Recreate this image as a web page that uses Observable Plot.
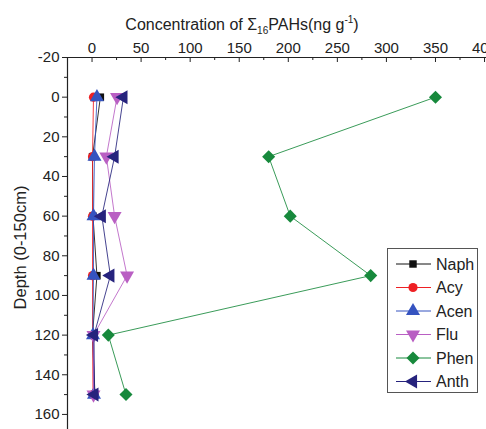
<!DOCTYPE html>
<html><head><meta charset="utf-8">
<script src="https://cdn.jsdelivr.net/npm/d3@7"></script>
<script src="https://cdn.jsdelivr.net/npm/@observablehq/plot@0.6"></script>
<style>
body{margin:0;background:#fff;}
#chart{position:relative;width:486px;height:429px;overflow:hidden;font-family:"Liberation Sans",Arial,sans-serif;}
#chart svg{font-family:"Liberation Sans",Arial,sans-serif;}
</style></head><body><div id="chart"></div>
<script>
// ---- data ----
const depths = [0, 30, 60, 90, 120, 150];
const naph = [8.5, 0.5, 1, 5, 0.5, 3];
const acy  = [1.5, 0.5, 0.5, 0.5, 0.5, 1];
const acen = [5, 2.5, 1.5, 1.5, 1, 2];
const flu  = [25.5, 14.6, 23, 35.7, 1.5, 1.5];
const phen = [350, 180, 202, 284, 16.6, 34.6];
const anth = [32, 23, 10, 18.7, 2, 2.5];
const seriesNames = ["Naph", "Acy", "Acen", "Flu", "Phen", "Anth"];
const seriesValues = [naph, acy, acen, flu, phen, anth];
const seriesColors = ["#111111", "#ee2024", "#3553c0", "#b95fc3", "#17893c", "#26237d"];
const xTicks = [0, 50, 100, 150, 200, 250, 300, 350, 400];
const xMinor = [25, 75, 125, 175, 225, 275, 325, 375];
const yTicks = [-20, 0, 20, 40, 60, 80, 100, 120, 140, 160];
const yMinor = [-10, 10, 30, 50, 70, 90, 110, 130, 150];
const xTitle = ["Concentration of Σ", "16", "PAHs(ng g", "-1", ")"];
const yTitle = "Depth (0-150cm)";

// ---- symbols ----
const triDown = {draw(ctx, size) {
  const y = -Math.sqrt(size / (Math.sqrt(3) * 3));
  ctx.moveTo(0, -y * 2); ctx.lineTo(-Math.sqrt(3) * y, y); ctx.lineTo(Math.sqrt(3) * y, y); ctx.closePath();
}};
const triLeft = {draw(ctx, size) {
  const y = -Math.sqrt(size / (Math.sqrt(3) * 3));
  ctx.moveTo(y * 2, 0); ctx.lineTo(-y, -Math.sqrt(3) * y); ctx.lineTo(-y, Math.sqrt(3) * y); ctx.closePath();
}};
const triUp = d3.symbolTriangle;
const diamond = {draw(ctx, size) {
  const r = Math.sqrt(size / 2);
  ctx.moveTo(0, -r); ctx.lineTo(r, 0); ctx.lineTo(0, r); ctx.lineTo(-r, 0); ctx.closePath();
}};
const seriesSymbols = [d3.symbolSquare, d3.symbolCircle, triUp, triDown, diamond, triLeft];
const seriesR = [4.2, 4.6, 5.2, 5.2, 5.2, 5.2];

const rows = seriesNames.flatMap((name, i) => depths.map((d, j) => ({series: name, depth: d, value: seriesValues[i][j]})));

const W = 486, H = 429, mTop = 57, mLeft = 67;
const xDomain = [-25, 402];
const yDomain = [-20, 167.6];
const innerH = H - mTop;
const fmt = d => String(d);

const seriesMarks = seriesNames.flatMap((name, i) => {
  const data = rows.filter(r => r.series === name);
  return [
    Plot.line(data, {x: "value", y: "depth", stroke: seriesColors[i], strokeWidth: 1, strokeOpacity: 0.85}),
    Plot.dot(data, {x: "value", y: "depth", symbol: seriesSymbols[i], fill: seriesColors[i], r: seriesR[i]})
  ];
});

const chart = Plot.plot({
  width: W, height: H,
  marginTop: mTop, marginLeft: mLeft, marginRight: 0, marginBottom: 0,
  style: {fontFamily: '"Liberation Sans", Arial, sans-serif', overflow: "visible", background: "#fff"},
  x: {domain: xDomain, label: null},
  y: {domain: yDomain, reverse: true, label: null},
  marks: [
    Plot.axisX(xTicks, {anchor: "top", tickSize: 0, tickPadding: 5, fontSize: 15, fill: "#222", label: null, tickFormat: fmt}),
    Plot.tickX(xTicks, {x: d => d, stroke: "#222", strokeWidth: 1, insetBottom: innerH - 5}),
    Plot.tickX(xMinor, {x: d => d, stroke: "#222", strokeWidth: 1, insetBottom: innerH - 3}),
    Plot.axisY(yTicks, {anchor: "left", tickSize: 5, tickPadding: 3, fontSize: 15, fill: "#222", stroke: "#222", label: null, tickFormat: fmt}),
    Plot.axisY(yMinor, {anchor: "left", tickSize: 3, tickFormat: () => "", stroke: "#222", label: null}),
    Plot.ruleX([xDomain[0]], {stroke: "#222", strokeWidth: 1.2}),
    Plot.ruleY([yDomain[0]], {stroke: "#222", strokeWidth: 1.2}),
    ...seriesMarks,
    Plot.text([yTitle], {frameAnchor: "left", textAnchor: "middle", dx: -47, dy: 4, rotate: -90, fontSize: 16.5, fill: "#222"})
  ]
});

document.getElementById("chart").appendChild(chart);

// title with sub/superscript
const svg = d3.select(chart);
const t = svg.append("text").attr("x", 242).attr("y", 30).attr("text-anchor", "middle")
  .attr("font-size", 16).attr("fill", "#222");
t.append("tspan").text(xTitle[0]);
t.append("tspan").attr("font-size", 10).attr("dy", 4).text(xTitle[1]);
t.append("tspan").attr("font-size", 16).attr("dy", -4).text(xTitle[2]);
t.append("tspan").attr("font-size", 10).attr("dy", -7).text(xTitle[3]);
t.append("tspan").attr("font-size", 16).attr("dy", 7).text(xTitle[4]);

// legend
const lg = d3.select("#chart").append("svg")
  .style("position", "absolute").style("left", "387px").style("top", "248px")
  .attr("width", 92).attr("height", 146);
lg.append("rect").attr("x", 0.5).attr("y", 0.5).attr("width", 90).attr("height", 144)
  .attr("fill", "#fff").attr("stroke", "#555").attr("stroke-width", 1);
seriesNames.forEach((name, i) => {
  const cy = 16 + i * 23.5;
  const g = lg.append("g");
  g.append("line").attr("x1", 9).attr("x2", 44).attr("y1", cy).attr("y2", cy)
    .attr("stroke", seriesColors[i]).attr("stroke-width", 1);
  g.append("path").attr("transform", `translate(26,${cy})`)
    .attr("d", d3.symbol().type(seriesSymbols[i]).size(Math.PI * seriesR[i] * seriesR[i])())
    .attr("fill", seriesColors[i]);
  g.append("text").attr("x", 49).attr("y", cy).attr("dy", "0.36em")
    .attr("font-size", 16).attr("fill", "#222").text(name);
});
</script>
</body></html>
